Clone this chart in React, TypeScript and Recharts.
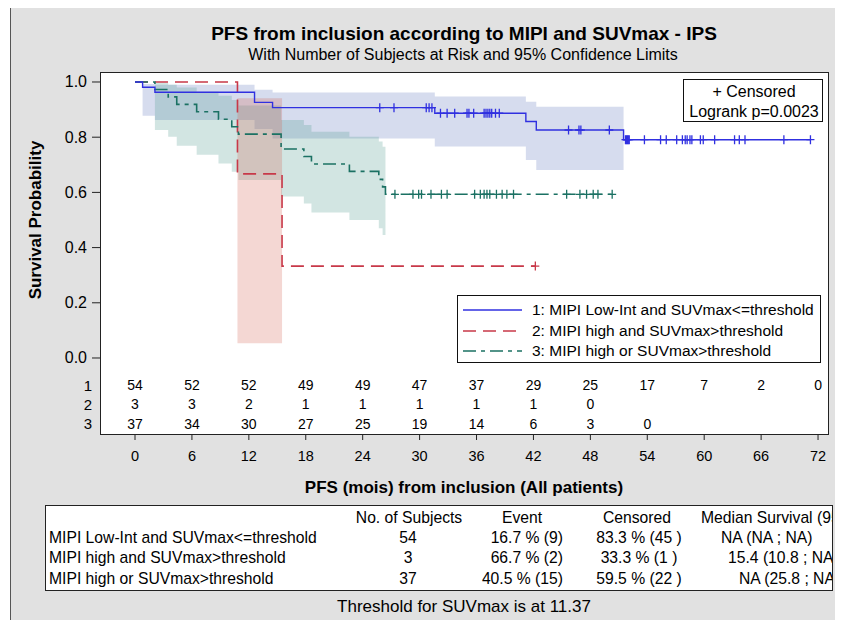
import { Area, ComposedChart, Legend, Line, Scatter, XAxis, YAxis } from "recharts";

const NARROW = "'Liberation Sans Narrow', 'Arial Narrow', 'Liberation Sans', Arial, sans-serif";
const SANS = "'Liberation Sans', Arial, sans-serif";

const months = [0, 6, 12, 18, 24, 30, 36, 42, 48, 54, 60, 66, 72];
const yTicks = [0, 0.2, 0.4, 0.6, 0.8, 1.0];
const riskRowY = [-0.098, -0.167, -0.239];
const riskRowLabels = ["1", "2", "3"];
const atRisk1 = [54, 52, 52, 49, 49, 47, 37, 29, 25, 17, 7, 2, 0];
const atRisk2 = [3, 3, 2, 1, 1, 1, 1, 1, 0];
const atRisk3 = [37, 34, 30, 27, 25, 19, 14, 6, 3, 0];

const seriesNames = [
  "1: MIPI Low-Int and SUVmax<=threshold",
  "2: MIPI high and SUVmax>threshold",
  "3: MIPI high or SUVmax>threshold",
];
const colors = ["#3030e0", "#c83848", "#1b7163"];
const bandColors = ["#5b73bb", "#d35f4f", "#4b978b"];

// group 1 (blue)
const km1Times = [0, 0.8, 2.1, 12.6, 14.5, 31.6, 41.2, 42.3, 51.5, 71.2];
const km1Surv = [1, 0.981, 0.963, 0.926, 0.907, 0.887, 0.857, 0.826, 0.791, 0.791];
const cens1 = [25.8, 27.3, 30.7, 31.0, 31.3, 32.2, 32.9, 33.7, 35.0, 35.2, 35.7, 36.8, 37.0, 37.2, 37.4, 37.6, 38.0, 38.4,
  45.7, 46.8, 47.0, 50.0, 51.7, 51.8, 51.9, 52.0, 52.1, 53.7, 55.4, 56.0, 57.1, 57.7, 58.0, 58.2, 58.5, 58.7, 59.6, 59.9,
  61.1, 63.2, 63.7, 64.3, 68.4, 71.2];
const band1Times = [0.8, 2.1, 12.6, 14.5, 31.6, 41.2, 42.3, 51.5];
const band1Low = [0.878, 0.862, 0.83, 0.795, 0.766, 0.717, 0.681, 0.681];
const band1High = [0.993, 0.99, 0.972, 0.962, 0.947, 0.928, 0.91, 0.91];

// group 2 (red)
const km2Times = [0, 10.8, 15.5, 42.2];
const km2Surv = [1, 0.667, 0.333, 0.333];
const cens2 = [42.2];
const band2Times = [10.8, 15.5];
const band2Low = [0.053, 0.053];
const band2High = [0.941, 0.941];

// group 3 (teal)
const km3Times = [0, 2.1, 3.5, 4.4, 6.5, 8.8, 10.2, 10.9, 15.4, 17.8, 18.6, 22.6, 25.7, 26.1, 26.4, 50.3];
const km3Surv = [1, 0.973, 0.946, 0.919, 0.892, 0.865, 0.838, 0.811, 0.757, 0.73, 0.703, 0.676, 0.647, 0.62, 0.593, 0.593];
const cens3 = [27.4, 29.3, 29.9, 30.2, 31.2, 32.3, 32.9, 35.8, 36.4, 36.8, 37.1, 37.4, 38.1, 38.7, 39.2, 39.9,
  45.5, 46.9, 47.6, 48.3, 48.8, 50.3];
const band3Times = [2.1, 3.5, 4.4, 6.5, 8.8, 10.2, 10.9, 15.4, 17.8, 18.6, 22.6, 25.7, 26.1, 26.4];
const band3Low = [0.826, 0.802, 0.769, 0.736, 0.705, 0.675, 0.645, 0.585, 0.56, 0.527, 0.5, 0.47, 0.446, 0.446];
const band3High = [0.996, 0.99, 0.98, 0.965, 0.95, 0.935, 0.915, 0.862, 0.844, 0.82, 0.802, 0.784, 0.765, 0.765];

const tableHeader = ["No. of Subjects", "Event", "Censored", "Median Survival (95% CL)"];
const tableLabels = ["MIPI Low-Int and SUVmax<=threshold", "MIPI high and SUVmax>threshold", "MIPI high or SUVmax>threshold"];
const tableSubjects = ["54", "3", "37"];
const tableEvent = ["16.7 % (9)", "66.7 % (2)", "40.5 % (15)"];
const tableCensored = ["83.3 % (45 )", "33.3 % (1 )", "59.5 % (22 )"];
const tableMedian = ["NA (NA ; NA)", "15.4 (10.8 ; NA)", "NA (25.8 ; NA)"];

const survAt = (times: number[], surv: number[], t: number) => {
  let s = surv[0];
  times.forEach((tt, i) => { if (tt <= t) s = surv[i]; });
  return s;
};
const kmData = (times: number[], surv: number[]) => times.map((t, i) => ({ t, s: surv[i] }));
const bandData = (times: number[], lo: number[], hi: number[]) => times.map((t, i) => ({ t, band: [lo[i], hi[i]] }));
const censData = (c: number[], times: number[], surv: number[]) => c.map((t) => ({ t, s: survAt(times, surv, t) }));
const riskData = (vals: number[], row: number) => vals.map((n, i) => ({ t: months[i], s: riskRowY[row], n }));

const plus = (color: string) => (p: any) => (
  <path d={`M${p.cx - 4},${p.cy}h8M${p.cx},${p.cy - 4.5}v9`} stroke={color} strokeWidth={1.3} fill="none" />
);
const riskText = (p: any) => (
  <text x={p.cx} y={p.cy} textAnchor="middle" dominantBaseline="central" style={{ fontFamily: NARROW, fontSize: 14 }} fill="#000">
    {p.payload.n}
  </text>
);

function YTick(props: any) {
  const { y, payload } = props;
  const v = payload.value;
  const row = riskRowY.indexOf(v);
  if (row >= 0) {
    return (
      <text x={92} y={y} textAnchor="end" dominantBaseline="central" style={{ fontFamily: NARROW, fontSize: 15 }} fill="#000">
        {riskRowLabels[row]}
      </text>
    );
  }
  return (
    <g>
      <line x1={92} x2={100} y1={y} y2={y} stroke="#222" />
      <text x={87} y={y} textAnchor="end" dominantBaseline="central" style={{ fontFamily: SANS, fontSize: 16 }} fill="#000">
        {v.toFixed(1)}
      </text>
    </g>
  );
}

function LegendBox() {
  const dashes = [undefined, "13 7", "13 5 4 5"];
  return (
    <div style={{ width: 364, height: 68, border: "1px solid #111", background: "#fff", boxSizing: "border-box", padding: "4px 0 0 4px", fontFamily: SANS, fontSize: 15.5 }}>
      {seriesNames.map((name, i) => (
        <div key={name} style={{ display: "flex", alignItems: "center", height: 20.5 }}>
          <svg width={62} height={10}>
            <line x1={1} x2={60} y1={5} y2={5} stroke={colors[i]} strokeWidth={1.5} strokeDasharray={dashes[i]} />
          </svg>
          <span style={{ marginLeft: 8, whiteSpace: "nowrap" }}>{name}</span>
        </div>
      ))}
    </div>
  );
}

const centered = (x: number, y: number, style: any, text: string) => (
  <div style={{ position: "absolute", left: x, top: y, transform: "translate(-50%,-50%)", whiteSpace: "nowrap", lineHeight: 1, ...style }}>{text}</div>
);

export default function App() {
  const cellStyle: any = { position: "absolute", whiteSpace: "nowrap", lineHeight: 1, fontFamily: NARROW, fontSize: 15.7 };
  const rowsY = [32, 52, 73];
  const medianLeft = [675, 682, 693];
  return (
    <div style={{ position: "relative", margin: -8, width: 843, height: 628, background: "#fff", overflow: "hidden" }}>
      <div style={{ position: "absolute", left: 10, top: 7, width: 829, height: 640, background: "#e1e1e1", border: "1px solid #555", boxSizing: "border-box" }} />
      <div style={{ position: "absolute", left: 100, top: 72, width: 729, height: 363, background: "#fff", border: "1px solid #222", boxSizing: "border-box" }} />
      {centered(464, 33, { fontFamily: NARROW, fontSize: 19, fontWeight: "bold" }, "PFS from inclusion according to MIPI and SUVmax - IPS")}
      {centered(463, 55, { fontFamily: NARROW, fontSize: 16 }, "With Number of Subjects at Risk and 95% Confidence Limits")}
      <div style={{ position: "absolute", left: 36, top: 220, transform: "translate(-50%,-50%) rotate(-90deg)", whiteSpace: "nowrap", fontFamily: NARROW, fontSize: 17, fontWeight: "bold" }}>
        Survival Probability
      </div>
      {centered(464, 487, { fontFamily: NARROW, fontSize: 17, fontWeight: "bold" }, "PFS (mois) from inclusion (All patients)")}
      <div style={{ position: "absolute", left: 0, top: 0 }}>
        <ComposedChart width={843} height={500} margin={{ top: 72, right: 15, bottom: 36, left: 40 }}>
          <XAxis
            type="number"
            dataKey="t"
            domain={[-3.69, 73.05]}
            ticks={months}
            interval={0}
            allowDataOverflow
            axisLine={false}
            tickLine={{ stroke: "#222" }}
            tickSize={6}
            tickMargin={11}
            height={30}
            tick={{ fill: "#000", fontFamily: NARROW, fontSize: 14.5 }}
          />
          <YAxis
            type="number"
            dataKey="s"
            domain={[-0.2754, 1.0362]}
            ticks={[...riskRowY, ...yTicks]}
            interval={0}
            allowDataOverflow
            axisLine={false}
            tickLine={false}
            width={60}
            tick={<YTick />}
          />
          <Area data={bandData(band1Times, band1Low, band1High)} dataKey="band" type="stepAfter" stroke="none" fill={bandColors[0]} fillOpacity={0.25} isAnimationActive={false} />
          <Area data={bandData(band3Times, band3Low, band3High)} dataKey="band" type="stepAfter" stroke="none" fill={bandColors[2]} fillOpacity={0.25} isAnimationActive={false} />
          <Area data={bandData(band2Times, band2Low, band2High)} dataKey="band" type="stepAfter" stroke="none" fill={bandColors[1]} fillOpacity={0.25} isAnimationActive={false} />
          <Line data={kmData(km2Times, km2Surv)} dataKey="s" type="stepAfter" stroke={colors[1]} strokeWidth={1.6} strokeDasharray="13 7" dot={false} isAnimationActive={false} />
          <Line data={kmData(km3Times, km3Surv)} dataKey="s" type="stepAfter" stroke={colors[2]} strokeWidth={1.6} strokeDasharray="13 5 4 5" dot={false} isAnimationActive={false} />
          <Line data={kmData(km1Times, km1Surv)} dataKey="s" type="stepAfter" stroke={colors[0]} strokeWidth={1.4} dot={false} isAnimationActive={false} />
          <Scatter data={censData(cens1, km1Times, km1Surv)} shape={plus(colors[0])} isAnimationActive={false} />
          <Scatter data={censData(cens2, km2Times, km2Surv)} shape={plus(colors[1])} isAnimationActive={false} />
          <Scatter data={censData(cens3, km3Times, km3Surv)} shape={plus(colors[2])} isAnimationActive={false} />
          <Scatter data={riskData(atRisk1, 0)} shape={riskText} isAnimationActive={false} />
          <Scatter data={riskData(atRisk2, 1)} shape={riskText} isAnimationActive={false} />
          <Scatter data={riskData(atRisk3, 2)} shape={riskText} isAnimationActive={false} />
          <Legend
            layout="vertical"
            align="center"
            verticalAlign="middle"
            content={() => <LegendBox />}
            wrapperStyle={{ position: "absolute", left: 457, top: 295, width: 364, height: 68 }}
          />
        </ComposedChart>
      </div>
      <div style={{ position: "absolute", left: 683, top: 79, width: 140, height: 43, border: "1px solid #111", background: "#fff", boxSizing: "border-box" }}>
        {centered(70, 12, { fontFamily: SANS, fontSize: 16 }, "+ Censored")}
        {centered(70, 32, { fontFamily: SANS, fontSize: 16 }, "Logrank p=0.0023")}
      </div>
      <div style={{ position: "absolute", left: 45, top: 505, width: 788, height: 86, border: "1px solid #222", borderRight: "none", background: "#fff", boxSizing: "border-box", overflow: "hidden" }}>
        <div style={{ ...cellStyle, left: 363, top: 12, transform: "translate(-50%,-50%)" }}>{tableHeader[0]}</div>
        <div style={{ ...cellStyle, left: 476, top: 12, transform: "translate(-50%,-50%)" }}>{tableHeader[1]}</div>
        <div style={{ ...cellStyle, left: 591, top: 12, transform: "translate(-50%,-50%)" }}>{tableHeader[2]}</div>
        <div style={{ ...cellStyle, left: 655, top: 12, transform: "translateY(-50%)" }}>{tableHeader[3]}</div>
        {tableLabels.map((lab, i) => (
          <div key={lab}>
            <div style={{ ...cellStyle, left: 3, top: rowsY[i], transform: "translateY(-50%)" }}>{lab}</div>
            <div style={{ ...cellStyle, left: 362, top: rowsY[i], transform: "translate(-50%,-50%)" }}>{tableSubjects[i]}</div>
            <div style={{ ...cellStyle, right: 788 - 518, top: rowsY[i], transform: "translateY(-50%)" }}>{tableEvent[i]}</div>
            <div style={{ ...cellStyle, left: 593, top: rowsY[i], transform: "translate(-50%,-50%)" }}>{tableCensored[i]}</div>
            <div style={{ ...cellStyle, left: medianLeft[i], top: rowsY[i], transform: "translateY(-50%)" }}>{tableMedian[i]}</div>
          </div>
        ))}
      </div>
      <div style={{ position: "absolute", left: 832, top: 505, width: 1, height: 86, background: "#222" }} />
      {centered(464, 606, { fontFamily: NARROW, fontSize: 17 }, "Threshold for SUVmax is at 11.37")}
    </div>
  );
}
